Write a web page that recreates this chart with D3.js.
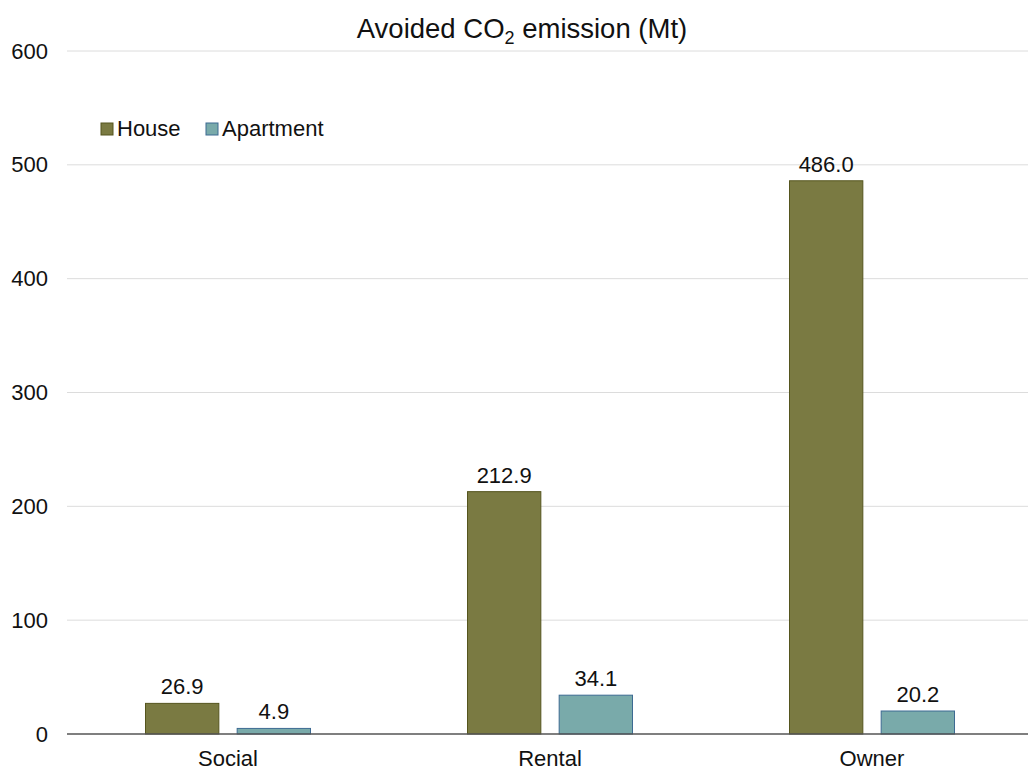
<!DOCTYPE html>
<html>
<head>
<meta charset="utf-8">
<script src="https://cdn.jsdelivr.net/npm/d3@7"></script>
<style>
  body { margin: 0; background: #fff; }
  text { font-family: "Liberation Sans", Arial, sans-serif; fill: #111; }
</style>
</head>
<body>
<svg id="chart" width="1028" height="771"></svg>
<script>
// Dati del grafico
const categories = ["Social", "Rental", "Owner"];
const seriesNames = ["House", "Apartment"];
const houseValues = [26.9, 212.9, 486.0];
const apartmentValues = [4.9, 34.1, 20.2];
const yTicks = [0, 100, 200, 300, 400, 500, 600];

const colors = { House: "#7a7a42", Apartment: "#79aaaa" };
const strokes = { House: "#55551e", Apartment: "#3d6a92" };

const svg = d3.select("#chart");
const W = 1028, H = 771;
const margin = { left: 67, top: 51, bottom: 37 };
const fontSize = 22;

const y = d3.scaleLinear().domain([0, 600]).range([H - margin.bottom, margin.top]);
const x0 = d3.scaleBand().domain(categories).range([margin.left, 1033]);
const groupW = 165;
const x1 = d3.scaleBand().domain(seriesNames).range([0, groupW]).paddingInner(0.2);

// Griglia
svg.append("g")
  .selectAll("line")
  .data(yTicks.filter(d => d > 0))
  .join("line")
  .attr("x1", margin.left).attr("x2", W)
  .attr("y1", d => y(d)).attr("y2", d => y(d))
  .attr("stroke", "#dcdcdc").attr("stroke-width", 1);

// Etichette asse y
const yAxis = d3.axisLeft(y).tickValues(yTicks).tickSize(0).tickPadding(0);
svg.append("g")
  .attr("transform", "translate(48,0)")
  .call(yAxis)
  .call(g => g.select(".domain").remove())
  .selectAll("text")
  .attr("font-size", fontSize)
  .attr("font-family", "Liberation Sans, Arial, sans-serif")
  .attr("fill", "#111");

// Barre
const rows = categories.map((c, i) => ({ cat: c, House: houseValues[i], Apartment: apartmentValues[i] }));
const groups = svg.append("g").selectAll("g")
  .data(rows)
  .join("g")
  .attr("transform", d => "translate(" + (x0(d.cat) + (x0.bandwidth() - groupW) / 2) + ",0)");

groups.selectAll("rect")
  .data(d => seriesNames.map(s => ({ s: s, v: d[s] })))
  .join("rect")
  .attr("x", d => x1(d.s))
  .attr("width", x1.bandwidth())
  .attr("y", d => y(d.v))
  .attr("height", d => y(0) - y(d.v))
  .attr("fill", d => colors[d.s])
  .attr("stroke", d => strokes[d.s])
  .attr("stroke-width", 1);

groups.selectAll("text.val")
  .data(d => seriesNames.map(s => ({ s: s, v: d[s] })))
  .join("text")
  .attr("class", "val")
  .attr("x", d => x1(d.s) + x1.bandwidth() / 2)
  .attr("y", d => y(d.v) - 9)
  .attr("text-anchor", "middle")
  .attr("font-size", fontSize)
  .text(d => d.v.toFixed(1));

// Asse x
svg.append("line")
  .attr("x1", margin.left).attr("x2", W)
  .attr("y1", y(0)).attr("y2", y(0))
  .attr("stroke", "#555").attr("stroke-width", 1.5);

const xAxis = d3.axisBottom(x0).tickSize(0).tickPadding(0);
svg.append("g")
  .attr("transform", "translate(0," + (y(0) + 16) + ")")
  .call(xAxis)
  .call(g => g.select(".domain").remove())
  .selectAll("text")
  .attr("font-size", fontSize)
  .attr("font-family", "Liberation Sans, Arial, sans-serif")
  .attr("fill", "#111");

// Titolo
const title = svg.append("text")
  .attr("x", 522).attr("y", 38)
  .attr("text-anchor", "middle")
  .attr("font-size", 27.5);
title.append("tspan").text("Avoided CO");
title.append("tspan").attr("font-size", 18).attr("dy", 6).text("2");
title.append("tspan").attr("dy", -6).text(" emission (Mt)");

// Legenda
const legendX = [101, 206];
const legend = svg.append("g").selectAll("g")
  .data(seriesNames)
  .join("g")
  .attr("transform", (d, i) => "translate(" + legendX[i] + ",123)");
legend.append("rect")
  .attr("width", 12).attr("height", 12)
  .attr("fill", d => colors[d])
  .attr("stroke", d => strokes[d]);
legend.append("text")
  .attr("x", 16).attr("y", 13)
  .attr("font-size", fontSize)
  .text(d => d);
</script>
</body>
</html>
